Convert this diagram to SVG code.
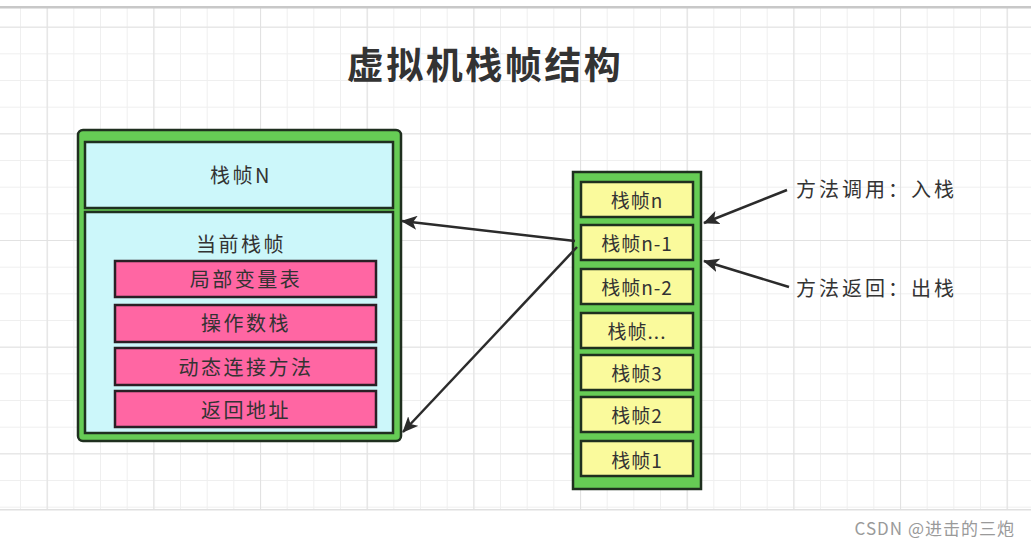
<svg xmlns="http://www.w3.org/2000/svg" width="1031" height="545" viewBox="0 0 1031 545">
<defs>
<style>
.t{font-family:"Noto Sans CJK SC","Liberation Sans",sans-serif;fill:#333;text-anchor:middle;dominant-baseline:central}
.lbl{font-family:"Noto Sans CJK SC","Liberation Sans",sans-serif;fill:#333;font-size:20px;letter-spacing:3px;dominant-baseline:central}
.m{font-size:20px;letter-spacing:2.5px}
.s{font-size:19px;letter-spacing:1px}
.green{fill:#66cc55;stroke:#1f2f1f;stroke-width:2.5}
.cyan{fill:#ccf7fa;stroke:#1f2f1f;stroke-width:2.5}
.pink{fill:#ff66a3;stroke:#2a1f25;stroke-width:2.5}
.yel{fill:#fafa9c;stroke:#1f2f1f;stroke-width:2.5}
.edge{stroke:#2b2b2b;stroke-width:2.5;fill:none;marker-end:url(#ah)}
</style>
<pattern id="g" x="20" y="0" width="26.667" height="26.667" patternUnits="userSpaceOnUse">
<path d="M0.5,0V26.667M0,0.5H26.667" stroke="#efefef" stroke-width="1" fill="none"/>
</pattern>
<pattern id="gm" x="46.667" y="26.667" width="106.667" height="106.667" patternUnits="userSpaceOnUse">
<path d="M0.5,0V106.667M0,0.5H106.667" stroke="#e2e2e2" stroke-width="1.2" fill="none"/>
</pattern>
<marker id="ah" viewBox="0 0 16 14" refX="15" refY="7" markerWidth="16" markerHeight="14" markerUnits="userSpaceOnUse" orient="auto">
<path d="M0,0 L16,7 L0,14 L4,7 Z" fill="#2b2b2b"/>
</marker>
</defs>
<rect x="0" y="0" width="1031" height="545" fill="#ffffff"/>
<rect x="0" y="8" width="1031" height="502" fill="url(#g)"/>
<rect x="0" y="8" width="1031" height="502" fill="url(#gm)"/>
<rect x="0" y="6" width="1031" height="2.5" fill="#c8c8c8"/>
<rect x="0" y="509" width="1031" height="1.5" fill="#e0e0e0"/>

<text class="t" x="485" y="63" font-size="37" font-weight="bold" letter-spacing="2.5">虚拟机栈帧结构</text>

<g id="left-frame">
<rect class="green" x="78" y="130" width="323" height="311" rx="5"/>
<rect class="cyan" x="85" y="142" width="308" height="66"/>
<text class="t m" x="241" y="174">栈帧N</text>
<rect class="cyan" x="85" y="212" width="308" height="221"/>
<text class="t m" x="241" y="243">当前栈帧</text>
</g>
<g id="local-vars"><rect class="pink" x="115" y="261" width="261" height="36"/><text class="t m" x="246" y="278">局部变量表</text></g>
<g id="operand-stack"><rect class="pink" x="115" y="305" width="261" height="37"/><text class="t m" x="246" y="322">操作数栈</text></g>
<g id="dynamic-link"><rect class="pink" x="115" y="348" width="261" height="37"/><text class="t m" x="246" y="366">动态连接方法</text></g>
<g id="return-addr"><rect class="pink" x="115" y="391" width="261" height="36"/><text class="t m" x="246" y="409">返回地址</text></g>

<g id="stack">
<rect class="green" x="573" y="172" width="128" height="317"/>
</g>
<g id="f-n"><rect class="yel" x="581" y="182" width="112" height="35"/><text class="t s" x="637" y="199">栈帧n</text></g>
<g id="f-n1"><rect class="yel" x="581" y="225" width="112" height="35"/><text class="t s" x="637" y="242">栈帧n-1</text></g>
<g id="f-n2"><rect class="yel" x="581" y="269" width="112" height="35"/><text class="t s" x="637" y="286">栈帧n-2</text></g>
<g id="f-dots"><rect class="yel" x="581" y="313" width="112" height="35"/><text class="t s" x="637" y="330">栈帧...</text></g>
<g id="f-3"><rect class="yel" x="581" y="355" width="112" height="35"/><text class="t s" x="637" y="372">栈帧3</text></g>
<g id="f-2"><rect class="yel" x="581" y="397" width="112" height="35"/><text class="t s" x="637" y="414">栈帧2</text></g>
<g id="f-1"><rect class="yel" x="581" y="441" width="112" height="35"/><text class="t s" x="637" y="459">栈帧1</text></g>

<g id="connectors">
<line class="edge" x1="575" y1="241" x2="402" y2="221"/>
<line class="edge" x1="577" y1="247" x2="403" y2="432"/>
<line class="edge" x1="787" y1="190" x2="704" y2="223"/>
<line class="edge" x1="789" y1="287" x2="704" y2="261"/>
</g>
<g id="lbl-call"><text class="lbl" x="796" y="188">方法调用：入栈</text></g>
<g id="lbl-ret"><text class="lbl" x="796" y="287">方法返回：出栈</text></g>

<text x="1015" y="527" font-family="'Noto Sans CJK SC','Liberation Sans',sans-serif" font-size="17" letter-spacing="1" fill="#9a9a9a" text-anchor="end" dominant-baseline="central">CSDN @进击的三炮</text>
</svg>
